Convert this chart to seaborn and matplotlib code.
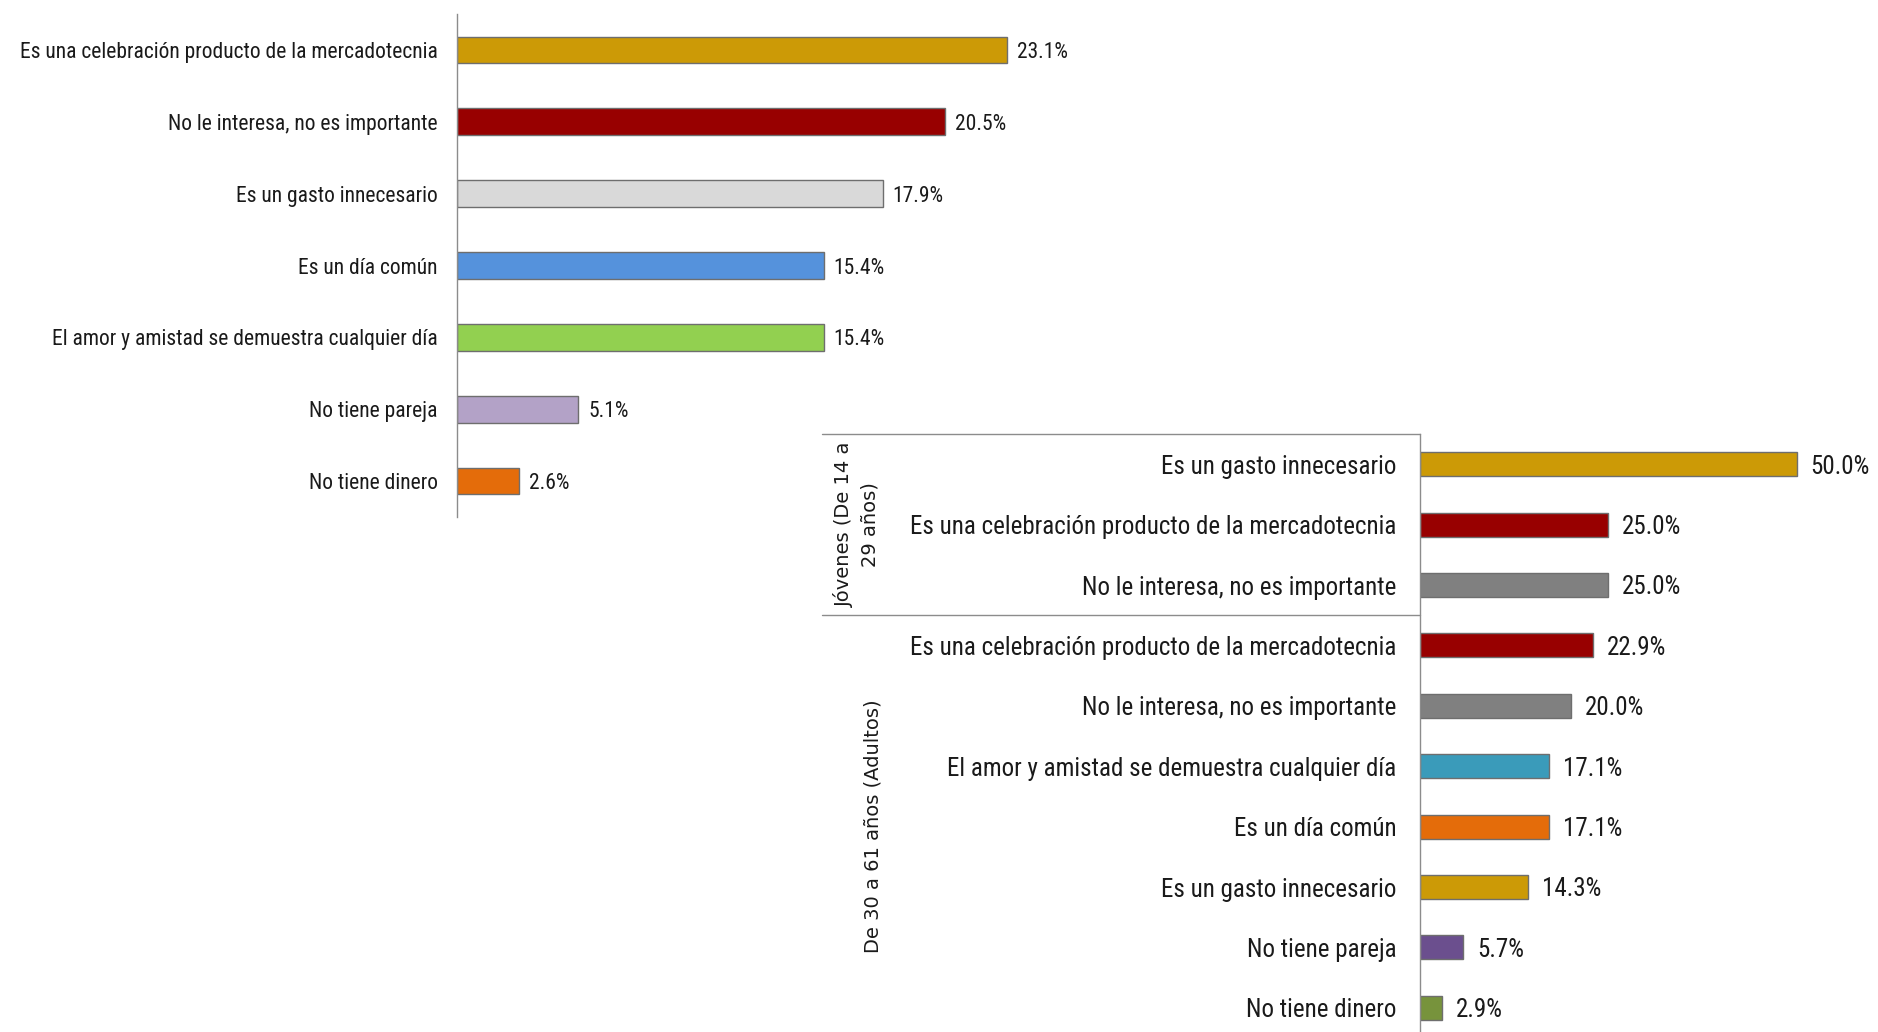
import matplotlib
matplotlib.use("Agg")
import matplotlib.pyplot as plt
import matplotlib.transforms as mtransforms
from matplotlib import font_manager
import pandas as pd
import seaborn as sns

# top chart: all respondents
top_labels = [
    "Es una celebración producto de la mercadotecnia",
    "No le interesa, no es importante",
    "Es un gasto innecesario",
    "Es un día común",
    "El amor y amistad se demuestra cualquier día",
    "No tiene pareja",
    "No tiene dinero",
]
top_values = [23.1, 20.5, 17.9, 15.4, 15.4, 5.1, 2.6]
top_colors = ["#CC9A06", "#980000", "#D9D9D9", "#5592DC", "#92D050", "#B3A2C7", "#E46C0A"]

# bottom chart: by age group
young_labels = [
    "Es un gasto innecesario",
    "Es una celebración producto de la mercadotecnia",
    "No le interesa, no es importante",
]
young_values = [50.0, 25.0, 25.0]
young_colors = ["#CC9A06", "#980000", "#808080"]

adult_labels = [
    "Es una celebración producto de la mercadotecnia",
    "No le interesa, no es importante",
    "El amor y amistad se demuestra cualquier día",
    "Es un día común",
    "Es un gasto innecesario",
    "No tiene pareja",
    "No tiene dinero",
]
adult_values = [22.9, 20.0, 17.1, 17.1, 14.3, 5.7, 2.9]
adult_colors = ["#980000", "#808080", "#3A9BBA", "#E46C0A", "#CC9A06", "#6B4F8E", "#77933C"]

group_names = ["Jóvenes (De 14 a\n29 años)", "De 30 a 61 años (Adultos)"]

W, H = 1878, 1032

sns.set_theme(style="white")
available = {f.name for f in font_manager.fontManager.ttflist}
label_font = next(
    (n for n in ["Liberation Sans Narrow", "Roboto Condensed", "Open Sans", "Lato"] if n in available),
    "DejaVu Sans",
)
plt.rcParams["font.family"] = [label_font, "DejaVu Sans"]
group_font = font_manager.FontProperties(family="DejaVu Sans", size=14)


def hbar(ax, labels, values, colors, width, fontsize, pad, label_pad):
    keys = [f"k{i}" for i in range(len(labels))]
    df = pd.DataFrame({"key": keys, "value": values})
    sns.barplot(
        data=df, x="value", y="key", hue="key", order=keys,
        palette=dict(zip(keys, colors)), legend=False, width=width,
        edgecolor="#6e6e6e", linewidth=1.0, saturation=1, ax=ax,
    )
    for cont in ax.containers:
        texts = ax.bar_label(cont, fmt="%.1f%%", padding=label_pad, fontsize=fontsize, color="#1a1a1a")
        for t in texts:
            t.set_va("center_baseline")
    ax.set_yticks(range(len(labels)))
    ax.set_yticklabels(labels, fontsize=fontsize, color="#1a1a1a")
    ax.set_ylim(len(labels) - 0.5, -0.5)
    ax.set_xlabel("")
    ax.set_ylabel("")
    ax.set_xticks([])
    for s in ["top", "right", "bottom"]:
        ax.spines[s].set_visible(False)
    ax.spines["left"].set_color("#8c8c8c")
    ax.spines["left"].set_linewidth(1.0)
    ax.tick_params(axis="y", which="major", length=0, pad=pad)
    ax.set_yticks([i - 0.5 for i in range(len(labels) + 1)], minor=True)
    ax.tick_params(axis="y", which="minor", length=6, color="#8c8c8c", direction="out")
    ax.set_facecolor("none")


fig = plt.figure(figsize=(W / 100, H / 100), dpi=100)
fig.patch.set_facecolor("white")

# top axes
x0, x1, y0, y1 = 457, 457 + 714, 14, 517
ax1 = fig.add_axes([x0 / W, 1 - y1 / H, (x1 - x0) / W, (y1 - y0) / H])
hbar(ax1, top_labels, top_values, top_colors, 0.37, 15.5, 14, 7)
ax1.set_xlim(0, 30)

# bottom axes
bx0, bx1, by0 = 1420, 1872, 434
band = 60.4
all_labels = young_labels + adult_labels
all_values = young_values + adult_values
all_colors = young_colors + adult_colors
by1 = by0 + band * len(all_labels)
ax2 = fig.add_axes([bx0 / W, 1 - by1 / H, (bx1 - bx0) / W, (by1 - by0) / H])
hbar(ax2, all_labels, all_values, all_colors, 0.4, 18, 17, 10)
ax2.set_xlim(0, 60)
ax2.tick_params(axis="y", which="minor", length=0)

# group separators and group names
trans = mtransforms.blended_transform_factory(ax2.transAxes, ax2.transData)
line_left = (822 - bx0) / (bx1 - bx0)
for yb in [-0.5, len(young_labels) - 0.5]:
    ax2.plot([line_left, 0], [yb, yb], transform=trans, color="#8c8c8c", lw=1.0, clip_on=False)

ax2.text((857 - bx0) / (bx1 - bx0), (len(young_labels) - 1) / 2, group_names[0],
         transform=trans, rotation=90, ha="center", va="center",
         fontproperties=group_font, color="#1a1a1a", linespacing=1.45)
ax2.text((873 - bx0) / (bx1 - bx0), len(young_labels) + (len(adult_labels) - 1) / 2, group_names[1],
         transform=trans, rotation=90, ha="center", va="center",
         fontproperties=group_font, color="#1a1a1a")

fig.savefig("out.png", dpi=100)
